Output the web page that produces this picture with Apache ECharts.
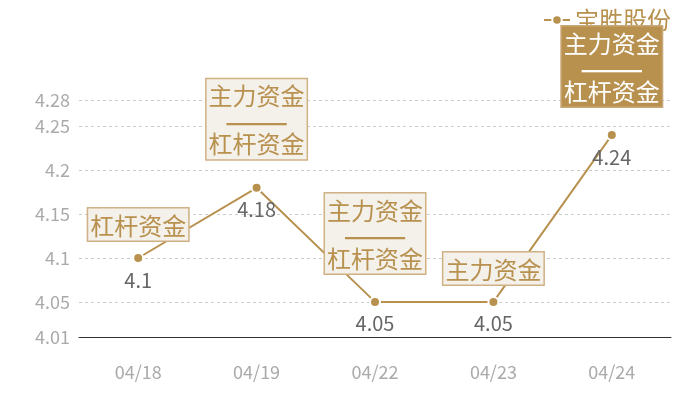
<!DOCTYPE html>
<html>
<head>
<meta charset="utf-8">
<script src="https://cdn.jsdelivr.net/npm/echarts@6/dist/echarts.min.js"></script>
<style>html,body{margin:0;padding:0;background:#fff}#c{width:700px;height:400px}</style>
</head>
<body>
<div id="c"></div>
<script>
var categories = ['04/18', '04/19', '04/22', '04/23', '04/24'];
var seriesName = '宝胜股份';
var prices = [4.1, 4.18, 4.05, 4.05, 4.24];
var annotations = ['杠杆资金', '主力资金\n——\n杠杆资金', '主力资金\n——\n杠杆资金', '主力资金', '主力资金\n——\n杠杆资金'];
var highlighted = [false, false, false, false, true];
var yMin = 4.01, yMax = 4.28;

var gold = '#b8914f';
var font = '"Noto Sans CJK SC", "Noto Sans", sans-serif';

function richText(s) {
  return s.split('\n').map(function (line) {
    return line.indexOf('—') >= 0 ? '{d|' + line + '}' : '{t|' + line + '}';
  }).join('\n');
}

var annData = prices.map(function (v, i) {
  var multi = annotations[i].indexOf('\n') >= 0;
  var hl = highlighted[i];
  var c = hl ? '#ffffff' : gold;
  return {
    value: v,
    label: {
      show: true,
      position: 'top',
      distance: multi ? 28 : 17,
      formatter: richText(annotations[i]),
      color: c,
      backgroundColor: hl ? gold : '#f4f0ea',
      borderColor: hl ? '#c9a877' : '#cfb184',
      borderWidth: 1.5,
      fontSize: 24,
      lineHeight: 24,
      padding: [5, 2, 3, 2],
      fontFamily: font,
      rich: {
        t: { color: c, fontSize: 24, lineHeight: 24, fontFamily: font },
        d: { color: c, fontSize: 38, lineHeight: 24, fontFamily: font }
      }
    }
  };
});

var chart = echarts.init(document.getElementById('c'));
chart.setOption({
  animation: false,
  textStyle: { fontFamily: font },
  legend: {
    data: [seriesName],
    right: 24,
    top: 3,
    itemWidth: 26,
    itemHeight: 12,
    itemGap: 6,
    textStyle: { color: gold, fontSize: 24, fontFamily: font }
  },
  grid: { left: 79, right: 29, top: 100, bottom: 63, containLabel: false },
  xAxis: {
    type: 'category',
    data: categories,
    boundaryGap: true,
    axisLine: { lineStyle: { color: '#333', width: 1 } },
    axisTick: { show: false },
    axisLabel: { color: '#aaaaaa', fontSize: 18, margin: 26, fontFamily: font }
  },
  yAxis: {
    type: 'value',
    min: yMin,
    max: yMax,
    splitNumber: 5,
    axisLine: { show: false },
    axisTick: { show: false },
    axisLabel: { color: '#aaaaaa', fontSize: 18, margin: 9, fontFamily: font },
    splitLine: { lineStyle: { color: '#cccccc', type: [3, 3], width: 1 } }
  },
  series: [
    {
      name: seriesName,
      type: 'line',
      data: prices,
      z: 3,
      symbol: 'circle',
      symbolSize: 10,
      itemStyle: { color: gold, borderColor: '#fff', borderWidth: 2 },
      lineStyle: { color: gold, width: 2 },
      label: {
        show: true,
        position: 'bottom',
        distance: 6,
        color: '#666666',
        fontSize: 20,
        fontFamily: font
      }
    },
    {
      name: 'annotations',
      type: 'scatter',
      data: annData,
      z: 6,
      symbolSize: 1,
      itemStyle: { color: 'rgba(0,0,0,0)', opacity: 1 },
      silent: true
    }
  ]
});
</script>
</body>
</html>
